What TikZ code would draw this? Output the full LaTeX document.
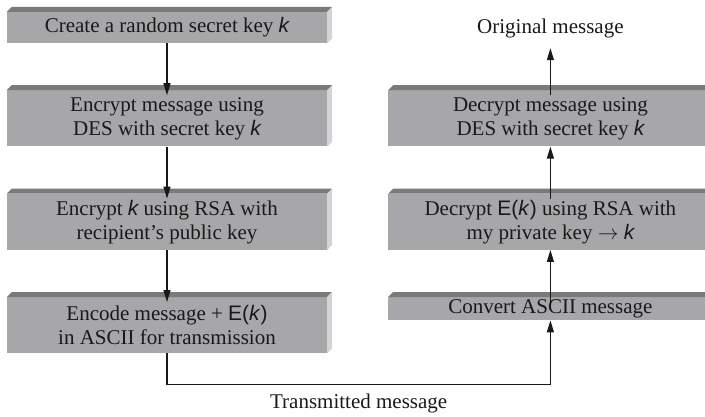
\documentclass[tikz,border=0pt]{standalone}
\usepackage{fontspec}
\setmainfont{Liberation Serif}
\newfontfamily\keyfont{Liberation Sans}
\usetikzlibrary{positioning,arrows.meta,calc}
\definecolor{boxgray}{RGB}{167,167,170}
\definecolor{topgray}{RGB}{122,122,125}
\definecolor{sidegray}{RGB}{212,212,215}
\tikzset{
  msarr/.style={-{Triangle[length=12pt,width=7pt]},line width=1.2pt,draw=black!90},
  stage/.style={fill=boxgray,align=center,minimum width=320pt,inner sep=0pt,
                text=black!90,font=\fontsize{21}{24}\selectfont},
  caption/.style={inner sep=2pt,text=black!90,font=\fontsize{21}{24}\selectfont}
}
\newcommand{\kk}{{\keyfont\itshape k}}
\newcommand{\Ek}{{\keyfont E(\itshape k\/\upshape)}}
% top and right faces of a box
\newcommand{\slab}[1]{%
  \fill[topgray] (#1.north west) -- ++(5pt,5pt) -- ($(#1.north east)+(5pt,5pt)$) -- (#1.north east) -- cycle;
  \fill[sidegray] (#1.north east) -- ++(5pt,5pt) -- ($(#1.south east)+(5pt,5pt)$) -- (#1.south east) -- cycle;}
\begin{document}
\begin{tikzpicture}[node distance=47pt and 61pt]
\useasboundingbox (0,0) rectangle (705pt,-417pt);

% sender side
\node[stage, minimum height=31pt] (enc1) at (167pt,-27.5pt) {Create a random secret key \kk};
\node[stage, minimum height=56pt, below=of enc1] (enc2) {Encrypt message using\\ DES with secret key \kk};
\node[stage, minimum height=56pt, below=of enc2] (enc3) {Encrypt \kk\ using RSA with\\ recipient's public key};
\node[stage, minimum height=56pt, below=of enc3] (enc4) {Encode message + \Ek\\ in ASCII for transmission};

% receiver side
\node[stage, minimum width=324pt, minimum height=56pt, right=of enc2] (dec1) {Decrypt message using\\ DES with secret key \kk};
\node[stage, minimum width=324pt, minimum height=56pt, below=of dec1] (dec2) {Decrypt \Ek\ using RSA with\\ my private key $\rightarrow$ \kk};
\node[stage, minimum width=324pt, minimum height=23pt, below=of dec2] (dec3) {Convert ASCII message};
\node[caption, above=50pt of dec1] (orig) {Original message};

\foreach \b in {enc1,enc2,enc3,enc4,dec1,dec2,dec3} {\slab{\b}}

\draw[msarr, shorten >=-5pt] (enc1) -- (enc2);
\draw[msarr, shorten >=-5pt] (enc2) -- (enc3);
\draw[msarr, shorten >=-5pt] (enc3) -- (enc4);
\draw[msarr] (enc4.south) -- ++(0,-31pt) -| node[caption, pos=0.25, below=7pt] (trans) {Transmitted message} (dec3.south);
\draw[msarr, shorten <=-5pt] (dec3) -- (dec2);
\draw[msarr, shorten <=-5pt] (dec2) -- (dec1);
\draw[msarr, shorten <=-5pt, shorten >=8pt] (dec1) -- (orig);
\end{tikzpicture}
\end{document}
